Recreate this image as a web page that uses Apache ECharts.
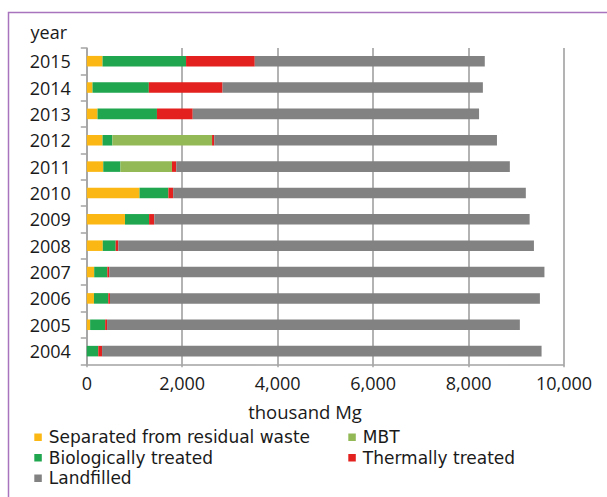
<!DOCTYPE html>
<html>
<head>
<meta charset="utf-8">
<script src="https://cdn.jsdelivr.net/npm/echarts@6/dist/echarts.min.js"></script>
<style>
html,body{margin:0;padding:0;background:#fff;}
#c{width:607px;height:497px;}
</style>
</head>
<body>
<div id="c"></div>
<script>
const years = ['2004','2005','2006','2007','2008','2009','2010','2011','2012','2013','2014','2015'];
const separated  = [0,   70,  150, 155, 335, 800, 1105, 345, 330, 225, 120, 330];
const biological = [240, 315, 300, 275, 270, 505, 605, 360, 205, 1245, 1180, 1750];
const mbt        = [0,   0,   0,   0,   0,   0,   0,   1080, 2090, 0, 0, 0];
const thermal    = [80,  40,  35,  40,  55,  110, 100, 90,  45,  750, 1545, 1440];
const landfilled = [9210,8650,9010,9120,8710,7865,7390,6990,5925,6000,5455,4820];
const xTicks = [0, 2000, 4000, 6000, 8000, 10000];

const names = {
  sep: 'Separated from residual waste',
  bio: 'Biologically treated',
  mbt: 'MBT',
  th: 'Thermally treated',
  land: 'Landfilled'
};
const colors = {sep:'#fbb814', bio:'#1fa64f', mbt:'#93b957', th:'#e3211e', land:'#828282'};
const FONT = 'Open Sans';
const LFONT = 'DejaVu Sans';
const TXT = '#1a1a1a';

function ser(key, data){
  return {
    name: names[key], type: 'bar', stack: 'total', data: data,
    barWidth: '40%', itemStyle: {color: colors[key]}, emphasis: {disabled: true},
    silent: true
  };
}

const chart = echarts.init(document.getElementById('c'), null, {renderer: 'svg'});
const legendCommon = {
  orient: 'vertical', itemWidth: 7.5, itemHeight: 7.5, itemGap: 0,
  icon: 'rect', selectedMode: false,
  textStyle: {fontFamily: LFONT, fontSize: 17, color: TXT, lineHeight: 20.5, padding: [0,0,0,2]},
  padding: 0
};
chart.setOption({
  animation: false,
  backgroundColor: '#fff',
  textStyle: {fontFamily: FONT},
  grid: {left: 86.8, right: 43, top: 48, bottom: 132.7, containLabel: false},
  legend: [
    Object.assign({}, legendCommon, {left: 34.3, top: 427, data: [names.sep, names.bio, names.land]}),
    Object.assign({}, legendCommon, {left: 348.3, top: 427, data: [names.mbt, names.th]})
  ],
  xAxis: {
    type: 'value', min: 0, max: 10000, interval: 2000,
    axisLine: {show: true, lineStyle: {color: '#a3a3a3', width: 1.5}},
    axisTick: {show: true, length: 3, lineStyle: {color: '#a3a3a3', width: 1.5}},
    splitLine: {show: true, lineStyle: {color: '#9a9a9a', width: 1.5}},
    axisLabel: {
      fontFamily: FONT, fontSize: 18, color: TXT, margin: 10,
      formatter: v => xTicks.includes(v) ? v.toLocaleString('en-US') : ''
    }
  },
  yAxis: {
    type: 'category', data: years,
    axisLine: {show: true, lineStyle: {color: '#a3a3a3', width: 1.5}},
    axisTick: {show: true, length: 6, lineStyle: {color: '#a3a3a3', width: 1.5}},
    axisLabel: {fontFamily: FONT, fontSize: 18, color: TXT, margin: 16}
  },
  graphic: [
    {type: 'rect', shape: {x: 8.5, y: 12.5, width: 700, height: 600},
     style: {fill: 'none', stroke: '#a774bd', lineWidth: 1.5}, silent: true, z: -1},
    {type: 'text', left: 30.5, top: 23,
     style: {text: 'year', font: '18px "Open Sans"', fill: TXT}},
    {type: 'text', x: 305, y: 411,
     style: {text: 'thousand Mg', font: '18.5px "Open Sans"', fill: TXT, align: 'center', verticalAlign: 'middle'}}
  ],
  series: [
    ser('sep', separated),
    ser('bio', biological),
    ser('mbt', mbt),
    ser('th', thermal),
    ser('land', landfilled)
  ]
});
</script>
</body>
</html>
